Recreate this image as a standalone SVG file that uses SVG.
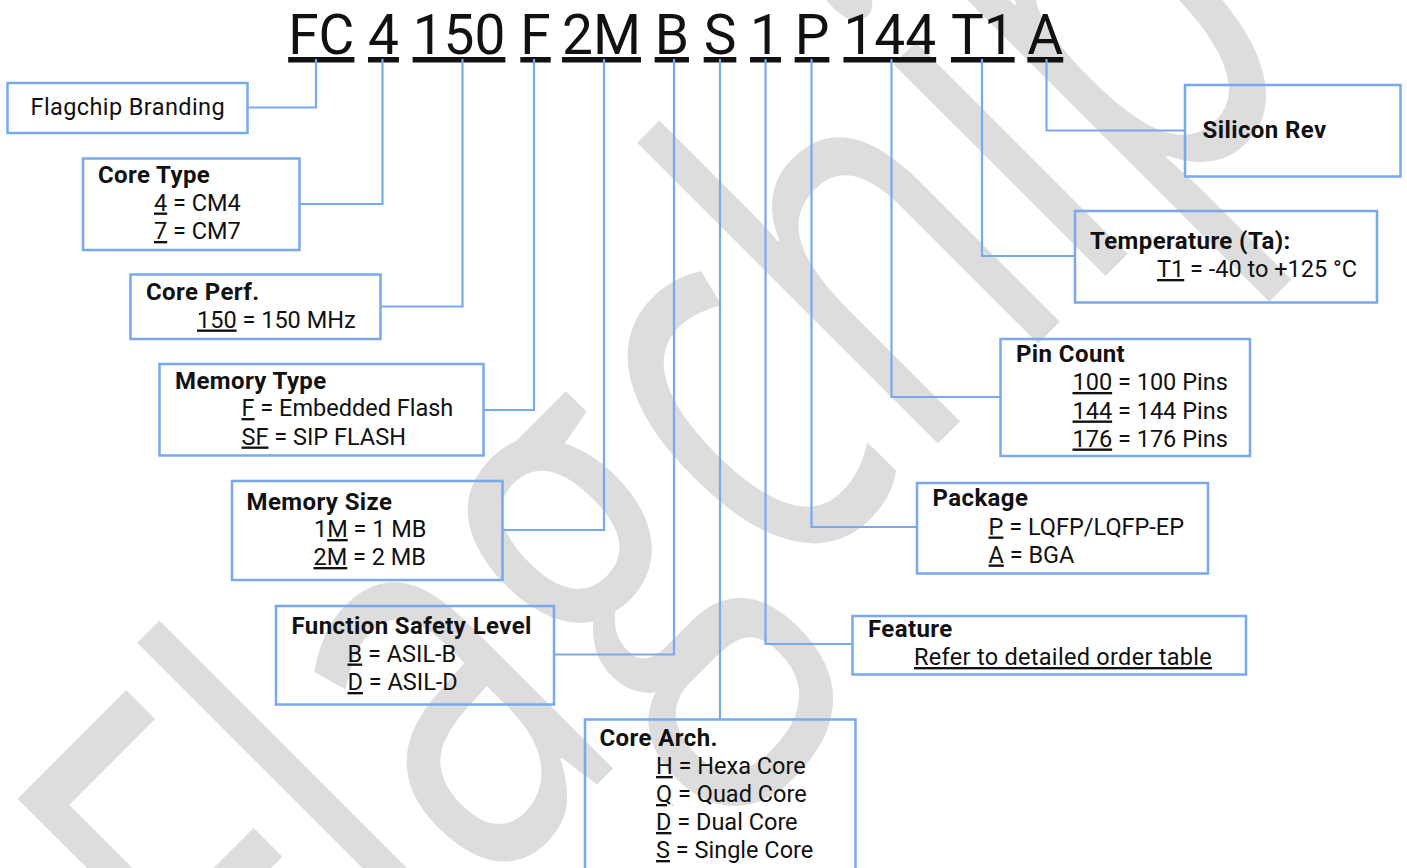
<svg xmlns="http://www.w3.org/2000/svg" width="1407" height="868" viewBox="0 0 1407 868">
<style>
.bg{fill:#ffffff}
.wm{font-family:"Open Sans","Noto Sans",sans-serif;font-size:560px;fill:#dddddd}
.box{fill:none;stroke:#78a9ef;stroke-width:2.5}
.conn{fill:none;stroke:#78a9ef;stroke-width:2.2}
.t{font-family:Roboto,"Liberation Sans",sans-serif;font-size:23.5px;fill:#111111}
.b{font-weight:700;font-size:24px;letter-spacing:0.4px}
.u{text-decoration:underline}
.hd{font-family:Roboto,"Liberation Sans",sans-serif;font-size:55px;fill:#111111;text-decoration:underline;text-anchor:middle}
</style>
<rect class="bg" x="0" y="0" width="1407" height="868"/>
<g id="watermark">
<text class="wm" x="0" y="0" transform="translate(273.6 1108) rotate(-45) scale(0.69 1)">Flagchip</text>
</g>
<g id="header">
<text class="hd" x="321.3" y="54">FC</text>
<text class="hd" x="383.5" y="54">4</text>
<text class="hd" x="459" y="54">150</text>
<text class="hd" x="535.5" y="54">F</text>
<text class="hd" x="601.5" y="54">2M</text>
<text class="hd" x="671.8" y="54">B</text>
<text class="hd" x="720" y="54">S</text>
<text class="hd" x="765.5" y="54">1</text>
<text class="hd" x="812" y="54">P</text>
<text class="hd" x="889.8" y="54">144</text>
<text class="hd" x="982.8" y="54">T1</text>
<text class="hd" x="1045.3" y="54">A</text>
</g>
<g id="connectors">
<path class="conn" d="M316 59 V107.5 H247.5"/>
<path class="conn" d="M382.5 59 V204 H299.5"/>
<path class="conn" d="M462.5 59 V306.5 H380.5"/>
<path class="conn" d="M534 59 V410 H483.5"/>
<path class="conn" d="M604 59 V530 H502.5"/>
<path class="conn" d="M674 59 V654.5 H554"/>
<path class="conn" d="M720 59 V719.5"/>
<path class="conn" d="M765.5 59 V644 H852.5"/>
<path class="conn" d="M811.5 59 V527 H917"/>
<path class="conn" d="M891.5 59 V397 H1000.5"/>
<path class="conn" d="M982 59 V256 H1075"/>
<path class="conn" d="M1046.5 59 V130.5 H1185"/>
</g>
<g id="branding">
<rect class="box" x="7.5" y="83" width="240" height="50"/>
<text class="t" x="30.5" y="115" letter-spacing="0.4">Flagchip Branding</text>
</g>
<g id="core-type">
<rect class="box" x="83" y="158.5" width="216.5" height="91.5"/>
<text class="t b" x="98" y="182.5">Core Type</text>
<text class="t" x="154" y="210.5"><tspan class="u">4</tspan> = CM4</text>
<text class="t" x="154" y="239"><tspan class="u">7</tspan> = CM7</text>
</g>
<g id="core-perf">
<rect class="box" x="130.5" y="274.5" width="250" height="64.5"/>
<text class="t b" x="146" y="299.5">Core Perf.</text>
<text class="t" x="197" y="327.5"><tspan class="u">150</tspan> = 150 MHz</text>
</g>
<g id="memory-type">
<rect class="box" x="159.5" y="364" width="324" height="91.5"/>
<text class="t b" x="175" y="388.5">Memory Type</text>
<text class="t" x="241.5" y="416"><tspan class="u">F</tspan> = Embedded Flash</text>
<text class="t" x="241.5" y="444.5"><tspan class="u">SF</tspan> = SIP FLASH</text>
</g>
<g id="memory-size">
<rect class="box" x="232" y="481" width="270.5" height="99"/>
<text class="t b" x="246.5" y="509.5">Memory Size</text>
<text class="t" x="314" y="537">1<tspan class="u">M</tspan> = 1 MB</text>
<text class="t" x="313.5" y="565"><tspan class="u">2M</tspan> = 2 MB</text>
</g>
<g id="safety-level">
<rect class="box" x="276" y="606" width="278" height="98.5"/>
<text class="t b" x="291.5" y="633.5">Function Safety Level</text>
<text class="t" x="347.5" y="661.5"><tspan class="u">B</tspan> = ASIL-B</text>
<text class="t" x="347.5" y="690"><tspan class="u">D</tspan> = ASIL-D</text>
</g>
<g id="core-arch">
<rect class="box" x="585" y="719.5" width="270.5" height="165"/>
<text class="t b" x="599.5" y="746">Core Arch.</text>
<text class="t" x="656" y="774"><tspan class="u">H</tspan> = Hexa Core</text>
<text class="t" x="656" y="802"><tspan class="u">Q</tspan> = Quad Core</text>
<text class="t" x="656" y="830"><tspan class="u">D</tspan> = Dual Core</text>
<text class="t" x="656" y="858"><tspan class="u">S</tspan> = Single Core</text>
</g>
<g id="feature">
<rect class="box" x="852.5" y="616" width="393.5" height="58.5"/>
<text class="t b" x="868" y="637">Feature</text>
<text class="t u" x="914" y="665" letter-spacing="0.3">Refer to detailed order table</text>
</g>
<g id="package">
<rect class="box" x="917" y="483" width="291" height="90.5"/>
<text class="t b" x="932.5" y="506">Package</text>
<text class="t" x="988.5" y="534.5"><tspan class="u">P</tspan> = LQFP/LQFP-EP</text>
<text class="t" x="988.5" y="562.5"><tspan class="u">A</tspan> = BGA</text>
</g>
<g id="pin-count">
<rect class="box" x="1000.5" y="339" width="249.5" height="117"/>
<text class="t b" x="1016" y="362">Pin Count</text>
<text class="t" x="1072.5" y="390"><tspan class="u">100</tspan> = 100 Pins</text>
<text class="t" x="1072.5" y="418.5"><tspan class="u">144</tspan> = 144 Pins</text>
<text class="t" x="1072.5" y="446.5"><tspan class="u">176</tspan> = 176 Pins</text>
</g>
<g id="temperature">
<rect class="box" x="1075" y="211" width="302" height="91.5"/>
<text class="t b" x="1090" y="249">Temperature (Ta):</text>
<text class="t" x="1157" y="277"><tspan class="u">T1</tspan> = -40 to +125 °C</text>
</g>
<g id="silicon-rev">
<rect class="box" x="1185" y="85" width="215.5" height="91.5"/>
<text class="t b" x="1202.5" y="137.5">Silicon Rev</text>
</g>
</svg>
